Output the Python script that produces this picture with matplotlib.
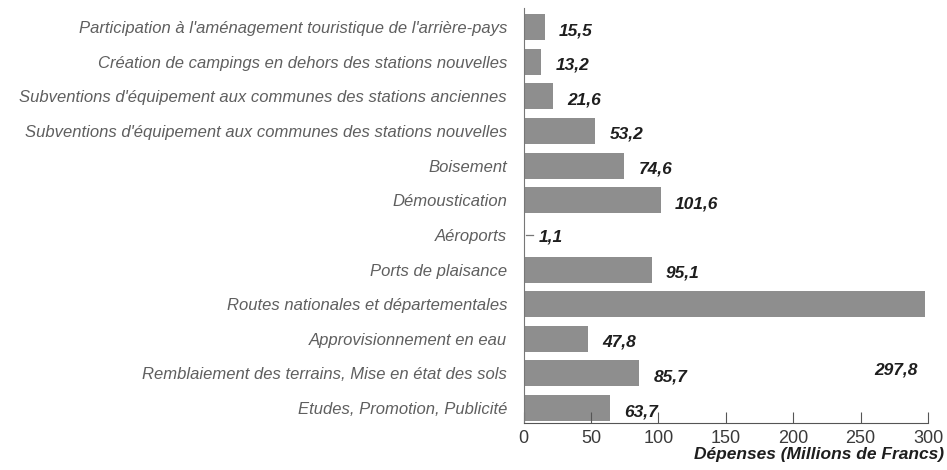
import matplotlib.pyplot as plt

CATEGORIES = [
    "Participation à l'aménagement touristique de l'arrière-pays",
    "Création de campings en dehors des stations nouvelles",
    "Subventions d'équipement aux communes des stations anciennes",
    "Subventions d'équipement aux communes des stations nouvelles",
    "Boisement",
    "Démoustication",
    "Aéroports",
    "Ports de plaisance",
    "Routes nationales et départementales",
    "Approvisionnement en eau",
    "Remblaiement des terrains, Mise en état des sols",
    "Etudes, Promotion, Publicité",
]
VALUES = [15.5, 13.2, 21.6, 53.2, 74.6, 101.6, 1.1, 95.1, 297.8, 47.8, 85.7, 63.7]
VALUE_LABELS = ["15,5", "13,2", "21,6", "53,2", "74,6", "101,6", "1,1", "95,1",
                "297,8", "47,8", "85,7", "63,7"]
X_TICKS = [0, 50, 100, 150, 200, 250, 300]

BAR_COLOR = "#8e8e8e"
LABEL_COLOR = "#5f5f5f"
VALUE_COLOR = "#1e1e1e"

plt.rcParams["font.family"] = ["Liberation Sans", "DejaVu Sans"]

fig = plt.figure(figsize=(9.47, 4.70), dpi=100)
ax = fig.add_axes([0.553, 0.1, 0.427, 0.883])

ys = list(range(len(CATEGORIES)))
ax.barh(ys, VALUES, height=0.75, color=BAR_COLOR)

val_kw = dict(fontsize=12.5, fontweight="bold", fontstyle="italic", color=VALUE_COLOR)
for y, v, lab in zip(ys, VALUES, VALUE_LABELS):
    if v > 250:
        # label sits below the big bar, at the right edge
        ax.text(292, y + 1.9, lab, ha="right", va="center", **val_kw)
    elif v < 5:
        # tiny bar: short leader dash then the value
        ax.plot([v + 0.5, v + 6], [y, y], color="#777777", lw=0.9)
        ax.text(v + 10, y + 0.05, lab, ha="left", va="center", **val_kw)
    else:
        ax.text(v + 10.5, y + 0.1, lab, ha="left", va="center", **val_kw)

ax.set_xlim(0, 300)
ax.set_ylim(11.43, -0.55)
ax.set_yticks(ys)
ax.set_yticklabels(CATEGORIES, fontsize=12, fontstyle="italic", color=LABEL_COLOR)
ax.tick_params(axis="y", length=0, pad=12)
ax.set_xticks(X_TICKS)
ax.tick_params(axis="x", direction="in", length=8, width=0.8, color="#555555",
               labelsize=13, labelcolor="#3a3a3a", pad=5)

for side in ["top", "right"]:
    ax.spines[side].set_visible(False)
ax.spines["left"].set_color("#777777")
ax.spines["bottom"].set_color("#555555")

xl = ax.set_xlabel("Dépenses (Millions de Francs)", fontsize=12.5, fontweight="bold",
                   fontstyle="italic", color=VALUE_COLOR, loc="right", labelpad=0)
xl.set_x(1.04)

fig.savefig("out.png", dpi=100)
